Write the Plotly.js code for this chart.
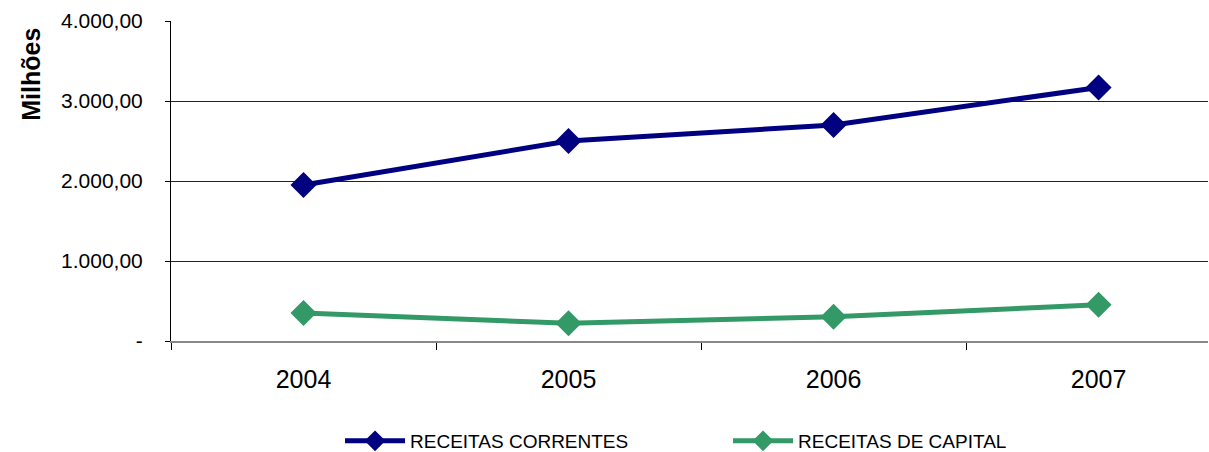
<!DOCTYPE html>
<html>
<head>
<meta charset="utf-8">
<script src="https://cdn.plot.ly/plotly-3.0.1.min.js"></script>
<style>
  html, body { margin: 0; padding: 0; background: #fff; }
  #chart { width: 1209px; height: 452px; }
</style>
</head>
<body>
<div id="chart"></div>
<script>
// Receitas por ano (em milhões)
const years = ['2004', '2005', '2006', '2007'];
const receitasCorrentes = [1950, 2500, 2700, 3170];
const receitasCapital = [350, 222, 304, 452];
const yTickVals = [0, 1000, 2000, 3000, 4000];
const yTickText = ['-', '1.000,00', '2.000,00', '3.000,00', '4.000,00'];

const baseFont = { family: 'Liberation Sans, Arial, sans-serif', color: '#000' };

const traces = [
  {
    x: years, y: receitasCorrentes, name: 'RECEITAS CORRENTES',
    type: 'scatter', mode: 'lines+markers',
    line: { color: '#000080', width: 5 },
    marker: { symbol: 'diamond', size: 20, color: '#000080' }
  },
  {
    x: years, y: receitasCapital, name: 'RECEITAS DE CAPITAL',
    type: 'scatter', mode: 'lines+markers',
    line: { color: '#339966', width: 5 },
    marker: { symbol: 'diamond', size: 20, color: '#339966' }
  }
];

const layout = {
  width: 1209, height: 452,
  margin: { l: 171, r: 1, t: 21, b: 111, autoexpand: false },
  paper_bgcolor: '#fff', plot_bgcolor: '#fff',
  showlegend: true,
  legend: {
    orientation: 'h', x: 0.163, xanchor: 'left', y: -0.3125, yanchor: 'middle',
    font: Object.assign({ size: 19 }, baseFont),
    itemwidth: 60, entrywidth: 313, entrywidthmode: 'pixels',
    bgcolor: 'rgba(0,0,0,0)'
  },
  xaxis: {
    type: 'category', range: [-0.5, 3.413],
    tickson: 'boundaries', ticks: 'outside', ticklen: 7, tickcolor: '#000', tickwidth: 1,
    showgrid: false, zeroline: false,
    showline: true, linecolor: '#888', linewidth: 2,
    tickfont: Object.assign({ size: 25 }, baseFont),
    ticklabelstandoff: 15
  },
  yaxis: {
    range: [0, 4000], tickvals: yTickVals, ticktext: yTickText,
    ticks: 'outside', ticklen: 5, tickcolor: '#000', tickwidth: 1,
    showgrid: true, gridcolor: '#222', gridwidth: 1,
    zeroline: false, showline: true, linecolor: '#000', linewidth: 1,
    tickfont: Object.assign({ size: 21 }, baseFont),
    ticklabelstandoff: 18
  },
  annotations: [{
    text: '<b>Milhões</b>', xref: 'paper', yref: 'paper',
    x: -0.135, y: 0.832, xanchor: 'center', yanchor: 'middle',
    textangle: -90, showarrow: false,
    font: Object.assign({ size: 25 }, baseFont)
  }]
};

Plotly.newPlot('chart', traces, layout, { displayModeBar: false, staticPlot: true });
</script>
</body>
</html>
